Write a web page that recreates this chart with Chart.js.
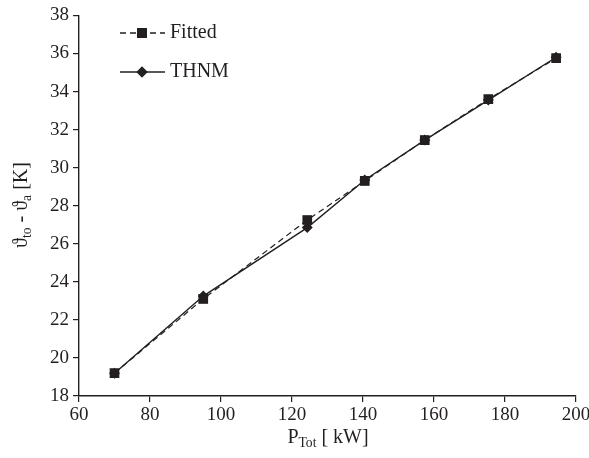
<!DOCTYPE html>
<html>
<head>
<meta charset="utf-8">
<script src="https://cdn.jsdelivr.net/npm/chart.js@4.4.0/dist/chart.umd.min.js"></script>
<style>
  html, body { margin: 0; padding: 0; background: #fff; }
  #wrap { width: 589px; height: 458px; }
</style>
</head>
<body>
<div id="wrap"><canvas id="canva1" width="589" height="458"></canvas></div>
<script>
const pTot = [70, 95, 124.3, 140.5, 157.4, 175.3, 194.4];
const fitted = [19.2, 23.1, 27.25, 29.3, 31.45, 33.6, 35.75];
const thnm = [19.2, 23.25, 26.85, 29.35, 31.45, 33.55, 35.8];
const xTicks = [60, 80, 100, 120, 140, 160, 180, 200];
const yTicks = [18, 20, 22, 24, 26, 28, 30, 32, 34, 36, 38];

const ink = "#231f20";
const serif = "'Liberation Serif', 'DejaVu Serif', serif";

function pairs(xs, ys) {
    return xs.map(function (x, i) { return { x: x, y: ys[i] }; });
}

// draw text parts, some of them as subscripts
function richText(ctx, parts, size) {
    let w = 0;
    parts.forEach(function (p) {
        ctx.font = (p.sub ? size * 0.68 : size) + "px " + serif;
        w += ctx.measureText(p.t).width;
    });
    let x = -w / 2;
    parts.forEach(function (p) {
        ctx.font = (p.sub ? size * 0.68 : size) + "px " + serif;
        ctx.fillText(p.t, x, p.sub ? size * 0.28 : 0);
        x += ctx.measureText(p.t).width;
    });
}

const extras = {
    id: "extras",
    afterDraw: function (chart) {
        const ctx = chart.ctx;
        ctx.save();
        ctx.fillStyle = ink;
        ctx.textBaseline = "middle";
        ctx.textAlign = "left";

        // axis titles
        ctx.save();
        ctx.translate(328, 438);
        richText(ctx, [{ t: "P" }, { t: "Tot", sub: true }, { t: " [ kW]" }], 20);
        ctx.restore();

        ctx.save();
        ctx.translate(22, 205);
        ctx.rotate(-Math.PI / 2);
        richText(ctx, [{ t: "ϑ" }, { t: "to", sub: true }, { t: " - ϑ" }, { t: "a", sub: true }, { t: " [K]" }], 20);
        ctx.restore();

        // legend inside the plot
        const rows = [
            { ds: chart.data.datasets[0], y: 33 },
            { ds: chart.data.datasets[1], y: 72 }
        ];
        rows.forEach(function (r) {
            ctx.save();
            ctx.strokeStyle = ink;
            ctx.lineWidth = r.ds.borderWidth + 0.3;
            ctx.setLineDash(r.ds.borderDash || []);
            ctx.beginPath();
            ctx.moveTo(120, r.y);
            ctx.lineTo(165, r.y);
            ctx.stroke();
            ctx.setLineDash([]);
            Chart.helpers.drawPoint(ctx, {
                pointStyle: r.ds.pointStyle,
                radius: r.ds.pointRadius,
                rotation: 0,
                borderWidth: 1
            }, 142, r.y);
            ctx.fillStyle = ink;
            ctx.font = "20px " + serif;
            ctx.fillText(r.ds.label, 170, r.y);
            ctx.restore();
        });
        ctx.restore();
    }
};

let canva1 = document.getElementById("canva1");
let grafico1 = new Chart(canva1, {
    type: "line",
    data: {
        datasets: [{
            label: "Fitted",
            data: pairs(pTot, fitted),
            borderColor: ink,
            backgroundColor: ink,
            borderWidth: 1.2,
            borderDash: [6, 4],
            pointStyle: "rect",
            pointRadius: 6,
            pointBackgroundColor: ink,
            pointBorderColor: ink
        }, {
            label: "THNM",
            data: pairs(pTot, thnm),
            borderColor: ink,
            backgroundColor: ink,
            borderWidth: 1.4,
            pointStyle: "rectRot",
            pointRadius: 4.5,
            pointBackgroundColor: ink,
            pointBorderColor: ink
        }]
    },
    options: {
        responsive: false,
        animation: false,
        layout: { padding: { left: 0, right: 13, top: 14, bottom: 0 } },
        plugins: { legend: { display: false }, tooltip: { enabled: false } },
        scales: {
            x: {
                type: "linear",
                min: 60,
                max: 200,
                afterBuildTicks: function (s) { s.ticks = xTicks.map(function (v) { return { value: v }; }); },
                afterFit: function (s) { s.height = 62; s.paddingRight = 0; },
                grid: { drawOnChartArea: false, drawTicks: true, tickLength: 6, color: ink, lineWidth: 1.2 },
                border: { color: ink, width: 1.4 },
                ticks: { color: ink, font: { family: serif, size: 19 }, padding: 2, maxRotation: 0 }
            },
            y: {
                min: 18,
                max: 38,
                afterBuildTicks: function (s) { s.ticks = yTicks.map(function (v) { return { value: v }; }); },
                afterFit: function (s) { s.width = 79; },
                grid: { drawOnChartArea: false, drawTicks: true, tickLength: 6, color: ink, lineWidth: 1.2 },
                border: { color: ink, width: 1.4 },
                ticks: { color: ink, font: { family: serif, size: 19 }, padding: 4 }
            }
        }
    },
    plugins: [extras]
});
</script>
</body>
</html>
